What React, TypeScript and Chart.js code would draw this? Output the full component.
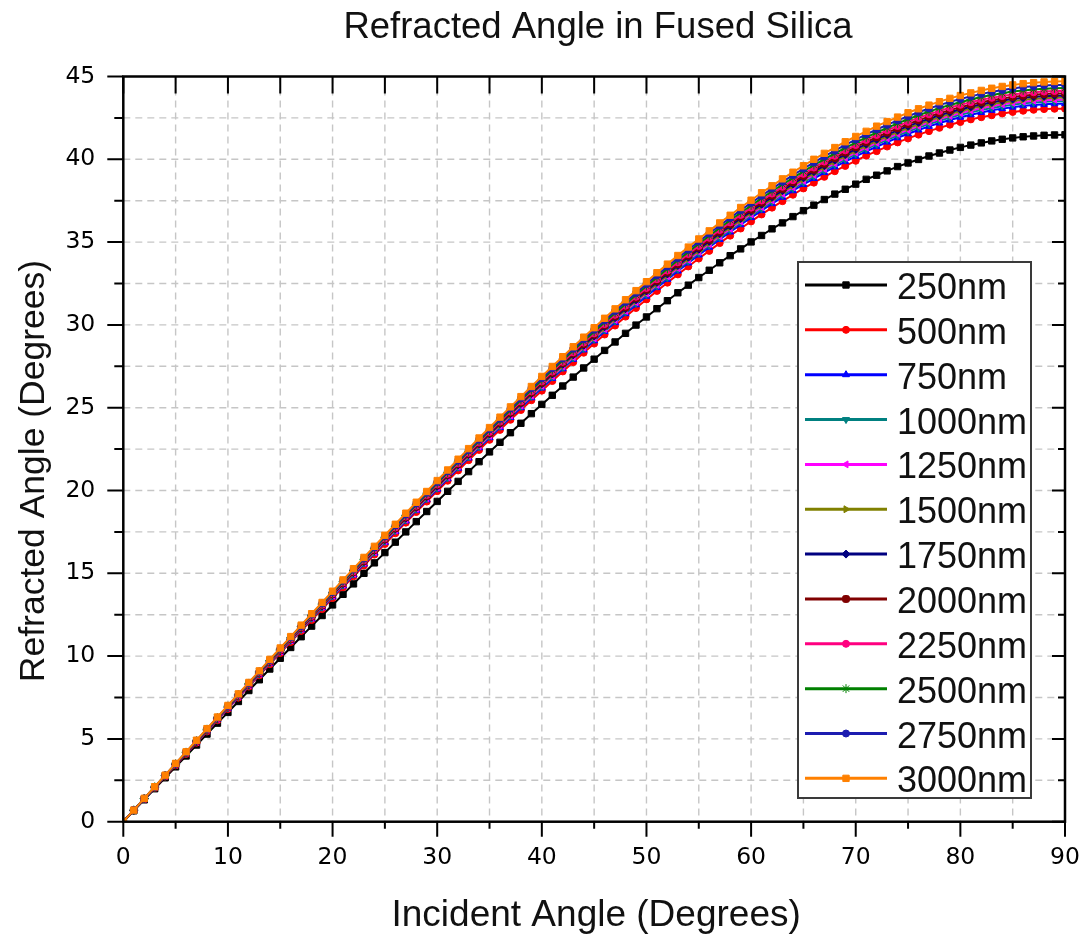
import React, { useEffect, useRef } from 'react';
import { Chart, registerables } from 'chart.js';
import { drawPoint } from 'chart.js/helpers';

Chart.register(...registerables);

const chartTitle = 'Refracted Angle in Fused Silica';
const xAxisTitle = 'Incident Angle (Degrees)';
const yAxisTitle = 'Refracted Angle (Degrees)';

const incidentAngles = [
  0, 1, 2, 3, 4, 5, 6, 7, 8, 9, 10, 11, 12, 13, 14, 15, 16, 17, 18, 19, 20,
  21, 22, 23, 24, 25, 26, 27, 28, 29, 30, 31, 32, 33, 34, 35, 36, 37, 38, 39, 40,
  41, 42, 43, 44, 45, 46, 47, 48, 49, 50, 51, 52, 53, 54, 55, 56, 57, 58, 59, 60,
  61, 62, 63, 64, 65, 66, 67, 68, 69, 70, 71, 72, 73, 74, 75, 76, 77, 78, 79, 80,
  81, 82, 83, 84, 85, 86, 87, 88, 89, 90,
];

const seriesNames = ['250nm', '500nm', '750nm', '1000nm', '1250nm', '1500nm', '1750nm', '2000nm', '2250nm', '2500nm', '2750nm', '3000nm'];
const seriesColors = ['#000000', '#ff0000', '#0000ff', '#008080', '#ff00ff', '#808000', '#000080', '#800000', '#ff0080', '#008000', '#1c1cb0', '#ff8000'];
const markerStyles = ['rect', 'circle', 'triangle', 'triangle', 'triangle', 'triangle', 'rectRot', 'rectRounded', 'circle', 'star', 'circle', 'rect'];
const markerRotations = [0, 0, 0, 180, -90, 90, 0, 0, 0, 0, 0, 0];
const markerRadii = [4.5, 3.5, 4, 4, 4, 4, 4, 4, 3.5, 4.5, 3.5, 4.5];

const refr250 = [0, 0.66, 1.32, 1.99, 2.65, 3.31, 3.97, 4.63, 5.29, 5.95, 6.60, 7.26, 7.92, 8.57, 9.22, 9.87, 10.52, 11.17, 11.81, 12.45, 13.09,
  13.73, 14.36, 15.00, 15.63, 16.25, 16.88, 17.50, 18.12, 18.73, 19.34, 19.95, 20.55, 21.14, 21.74, 22.33, 22.91, 23.49, 24.06, 24.64, 25.20,
  25.75, 26.31, 26.85, 27.40, 27.93, 28.46, 28.97, 29.49, 29.99, 30.48, 30.98, 31.46, 31.94, 32.40, 32.86, 33.30, 33.75, 34.18, 34.59, 35.01,
  35.40, 35.80, 36.16, 36.54, 36.90, 37.23, 37.57, 37.90, 38.19, 38.50, 38.79, 39.04, 39.30, 39.56, 39.78, 39.99, 40.20, 40.38, 40.56, 40.72,
  40.86, 40.99, 41.11, 41.21, 41.29, 41.36, 41.41, 41.45, 41.47, 41.48];
const refr500 = [0, 0.68, 1.37, 2.05, 2.73, 3.41, 4.09, 4.77, 5.45, 6.13, 6.81, 7.49, 8.16, 8.84, 9.51, 10.18, 10.85, 11.52, 12.18, 12.84, 13.51,
  14.16, 14.82, 15.47, 16.13, 16.77, 17.42, 18.06, 18.70, 19.33, 19.96, 20.59, 21.21, 21.83, 22.45, 23.06, 23.66, 24.27, 24.86, 25.45, 26.03,
  26.61, 27.19, 27.75, 28.32, 28.87, 29.42, 29.96, 30.50, 31.02, 31.54, 32.05, 32.55, 33.05, 33.53, 34.01, 34.47, 34.94, 35.39, 35.82, 36.25,
  36.67, 37.08, 37.47, 37.86, 38.24, 38.59, 38.94, 39.28, 39.60, 39.91, 40.22, 40.49, 40.77, 41.02, 41.26, 41.49, 41.70, 41.90, 42.09, 42.25,
  42.41, 42.54, 42.66, 42.77, 42.86, 42.93, 42.99, 43.03, 43.05, 43.06];
const refr750 = [0, 0.69, 1.37, 2.06, 2.75, 3.43, 4.12, 4.80, 5.48, 6.17, 6.85, 7.53, 8.21, 8.88, 9.56, 10.24, 10.91, 11.58, 12.25, 12.92, 13.58,
  14.24, 14.90, 15.56, 16.22, 16.87, 17.52, 18.16, 18.80, 19.44, 20.08, 20.71, 21.34, 21.96, 22.58, 23.19, 23.80, 24.41, 25.00, 25.60, 26.19,
  26.77, 27.35, 27.92, 28.49, 29.04, 29.60, 30.14, 30.68, 31.21, 31.73, 32.25, 32.75, 33.25, 33.74, 34.22, 34.69, 35.16, 35.61, 36.05, 36.48,
  36.90, 37.32, 37.71, 38.10, 38.48, 38.84, 39.20, 39.54, 39.86, 40.18, 40.48, 40.76, 41.04, 41.30, 41.54, 41.77, 41.99, 42.19, 42.37, 42.54,
  42.69, 42.83, 42.96, 43.06, 43.15, 43.23, 43.28, 43.32, 43.35, 43.36];
const refr1000 = [0, 0.69, 1.38, 2.07, 2.75, 3.44, 4.13, 4.81, 5.50, 6.18, 6.87, 7.55, 8.23, 8.91, 9.59, 10.26, 10.94, 11.61, 12.28, 12.95, 13.62,
  14.28, 14.95, 15.61, 16.26, 16.92, 17.57, 18.21, 18.86, 19.50, 20.13, 20.77, 21.40, 22.02, 22.64, 23.26, 23.87, 24.48, 25.08, 25.68, 26.27,
  26.85, 27.43, 28.00, 28.57, 29.13, 29.69, 30.23, 30.77, 31.31, 31.83, 32.35, 32.85, 33.36, 33.85, 34.33, 34.80, 35.27, 35.72, 36.17, 36.60,
  37.02, 37.44, 37.84, 38.23, 38.61, 38.97, 39.33, 39.67, 39.99, 40.31, 40.62, 40.90, 41.18, 41.44, 41.68, 41.91, 42.13, 42.33, 42.52, 42.69,
  42.84, 42.98, 43.10, 43.21, 43.30, 43.38, 43.43, 43.47, 43.50, 43.51];
const refr1250 = [0, 0.69, 1.38, 2.07, 2.76, 3.45, 4.13, 4.82, 5.51, 6.19, 6.88, 7.56, 8.25, 8.93, 9.61, 10.28, 10.96, 11.64, 12.31, 12.98, 13.65,
  14.31, 14.98, 15.64, 16.29, 16.95, 17.60, 18.25, 18.90, 19.54, 20.18, 20.81, 21.44, 22.07, 22.69, 23.31, 23.92, 24.53, 25.13, 25.73, 26.32,
  26.91, 27.49, 28.06, 28.63, 29.19, 29.75, 30.30, 30.84, 31.37, 31.90, 32.42, 32.93, 33.43, 33.92, 34.41, 34.88, 35.35, 35.80, 36.25, 36.68,
  37.11, 37.52, 37.92, 38.31, 38.70, 39.06, 39.42, 39.76, 40.09, 40.41, 40.71, 41.00, 41.27, 41.54, 41.78, 42.01, 42.23, 42.43, 42.62, 42.79,
  42.95, 43.08, 43.21, 43.32, 43.41, 43.48, 43.54, 43.58, 43.60, 43.61];
const refr1500 = [0, 0.69, 1.38, 2.07, 2.76, 3.45, 4.14, 4.83, 5.52, 6.21, 6.89, 7.58, 8.26, 8.95, 9.63, 10.31, 10.98, 11.66, 12.33, 13.01, 13.68,
  14.34, 15.01, 15.67, 16.33, 16.99, 17.64, 18.29, 18.94, 19.58, 20.22, 20.86, 21.49, 22.12, 22.74, 23.36, 23.97, 24.58, 25.19, 25.79, 26.38,
  26.97, 27.55, 28.13, 28.70, 29.26, 29.82, 30.37, 30.91, 31.45, 31.97, 32.49, 33.00, 33.51, 34.00, 34.49, 34.96, 35.43, 35.89, 36.33, 36.77,
  37.20, 37.61, 38.02, 38.41, 38.79, 39.16, 39.52, 39.86, 40.19, 40.51, 40.81, 41.10, 41.38, 41.64, 41.89, 42.12, 42.34, 42.54, 42.73, 42.90,
  43.06, 43.20, 43.32, 43.43, 43.52, 43.59, 43.65, 43.69, 43.72, 43.73];
const refr1750 = [0, 0.69, 1.39, 2.08, 2.77, 3.46, 4.15, 4.84, 5.53, 6.22, 6.91, 7.60, 8.28, 8.96, 9.65, 10.33, 11.01, 11.69, 12.36, 13.03, 13.71,
  14.37, 15.04, 15.70, 16.37, 17.02, 17.68, 18.33, 18.98, 19.62, 20.26, 20.90, 21.54, 22.17, 22.79, 23.41, 24.03, 24.64, 25.25, 25.85, 26.44,
  27.03, 27.62, 28.19, 28.77, 29.33, 29.89, 30.44, 30.98, 31.52, 32.05, 32.57, 33.08, 33.59, 34.09, 34.57, 35.05, 35.52, 35.98, 36.43, 36.86,
  37.29, 37.71, 38.11, 38.51, 38.89, 39.26, 39.62, 39.96, 40.29, 40.61, 40.92, 41.21, 41.49, 41.75, 42.00, 42.23, 42.45, 42.65, 42.84, 43.01,
  43.17, 43.31, 43.44, 43.55, 43.64, 43.71, 43.77, 43.81, 43.84, 43.84];
const refr2000 = [0, 0.69, 1.39, 2.08, 2.78, 3.47, 4.16, 4.85, 5.55, 6.24, 6.93, 7.61, 8.30, 8.99, 9.67, 10.35, 11.03, 11.71, 12.39, 13.07, 13.74,
  14.41, 15.08, 15.74, 16.41, 17.06, 17.72, 18.38, 19.02, 19.67, 20.32, 20.95, 21.59, 22.22, 22.85, 23.47, 24.09, 24.70, 25.31, 25.91, 26.51,
  27.10, 27.69, 28.27, 28.84, 29.41, 29.97, 30.52, 31.06, 31.61, 32.13, 32.66, 33.17, 33.68, 34.18, 34.67, 35.15, 35.62, 36.08, 36.53, 36.96,
  37.39, 37.81, 38.22, 38.62, 39.00, 39.37, 39.73, 40.08, 40.41, 40.73, 41.04, 41.33, 41.61, 41.87, 42.12, 42.36, 42.58, 42.78, 42.97, 43.14,
  43.30, 43.44, 43.57, 43.67, 43.77, 43.84, 43.90, 43.94, 43.97, 43.98];
const refr2250 = [0, 0.70, 1.39, 2.09, 2.78, 3.48, 4.17, 4.87, 5.56, 6.25, 6.94, 7.63, 8.32, 9.01, 9.70, 10.38, 11.06, 11.75, 12.42, 13.10, 13.78,
  14.45, 15.12, 15.79, 16.45, 17.11, 17.77, 18.43, 19.08, 19.73, 20.37, 21.01, 21.65, 22.28, 22.91, 23.54, 24.16, 24.77, 25.38, 25.99, 26.59,
  27.18, 27.77, 28.35, 28.93, 29.49, 30.05, 30.61, 31.16, 31.70, 32.23, 32.76, 33.28, 33.78, 34.28, 34.77, 35.26, 35.73, 36.19, 36.64, 37.08,
  37.51, 37.93, 38.34, 38.74, 39.12, 39.50, 39.86, 40.21, 40.54, 40.86, 41.17, 41.47, 41.75, 42.01, 42.26, 42.50, 42.72, 42.92, 43.11, 43.29,
  43.45, 43.59, 43.71, 43.82, 43.92, 43.99, 44.05, 44.09, 44.12, 44.13];
const refr2500 = [0, 0.70, 1.40, 2.10, 2.79, 3.49, 4.19, 4.88, 5.58, 6.27, 6.97, 7.66, 8.35, 9.04, 9.73, 10.41, 11.10, 11.78, 12.46, 13.14, 13.82,
  14.49, 15.17, 15.84, 16.50, 17.17, 17.83, 18.49, 19.14, 19.79, 20.44, 21.08, 21.72, 22.36, 22.99, 23.62, 24.24, 24.85, 25.47, 26.07, 26.67,
  27.27, 27.86, 28.45, 29.02, 29.59, 30.16, 30.72, 31.26, 31.81, 32.35, 32.87, 33.39, 33.90, 34.40, 34.90, 35.38, 35.85, 36.32, 36.77, 37.21,
  37.65, 38.07, 38.48, 38.88, 39.27, 39.65, 40.01, 40.35, 40.69, 41.01, 41.32, 41.62, 41.90, 42.17, 42.42, 42.66, 42.88, 43.09, 43.28, 43.45,
  43.61, 43.76, 43.88, 43.99, 44.09, 44.16, 44.22, 44.26, 44.29, 44.30];
const refr2750 = [0, 0.70, 1.40, 2.10, 2.80, 3.50, 4.20, 4.90, 5.60, 6.29, 6.99, 7.69, 8.38, 9.07, 9.76, 10.45, 11.14, 11.82, 12.51, 13.19, 13.87,
  14.55, 15.22, 15.89, 16.56, 17.23, 17.89, 18.55, 19.21, 19.86, 20.51, 21.16, 21.80, 22.44, 23.07, 23.70, 24.33, 24.95, 25.56, 26.17, 26.78,
  27.38, 27.97, 28.56, 29.13, 29.71, 30.27, 30.84, 31.38, 31.93, 32.47, 33.00, 33.53, 34.04, 34.54, 35.04, 35.52, 36.00, 36.46, 36.92, 37.37,
  37.80, 38.23, 38.64, 39.04, 39.43, 39.81, 40.17, 40.52, 40.87, 41.19, 41.50, 41.80, 42.08, 42.35, 42.60, 42.84, 43.07, 43.27, 43.47, 43.64,
  43.80, 43.95, 44.07, 44.18, 44.28, 44.36, 44.41, 44.46, 44.48, 44.49];
const refr3000 = [0, 0.70, 1.41, 2.11, 2.81, 3.52, 4.22, 4.92, 5.62, 6.32, 7.02, 7.72, 8.41, 9.11, 9.80, 10.49, 11.18, 11.87, 12.56, 13.24, 13.92,
  14.60, 15.28, 15.96, 16.63, 17.30, 17.96, 18.63, 19.29, 19.94, 20.60, 21.24, 21.89, 22.53, 23.17, 23.80, 24.43, 25.05, 25.67, 26.28, 26.89,
  27.49, 28.08, 28.68, 29.26, 29.83, 30.40, 30.97, 31.52, 32.07, 32.61, 33.15, 33.67, 34.19, 34.70, 35.19, 35.68, 36.16, 36.62, 37.09, 37.53,
  37.98, 38.40, 38.82, 39.22, 39.61, 40.00, 40.36, 40.71, 41.06, 41.38, 41.69, 42.00, 42.28, 42.55, 42.81, 43.05, 43.27, 43.48, 43.68, 43.85,
  44.01, 44.16, 44.29, 44.40, 44.49, 44.57, 44.63, 44.67, 44.70, 44.71];

const allSeries = [refr250, refr500, refr750, refr1000, refr1250, refr1500, refr1750, refr2000, refr2250, refr2500, refr2750, refr3000];

const TEXT_FONT = "'Liberation Sans', Arial, sans-serif";
const TICK_FONT = "'DejaVu Sans', 'Liberation Sans', sans-serif";

const decorPlugin = {
  id: 'decor',
  beforeDatasetsDraw(chart: any) {
    const { ctx, chartArea: a } = chart;
    const xs = chart.scales.x;
    const ys = chart.scales.y;
    ctx.save();
    ctx.strokeStyle = '#c6c6c6';
    ctx.lineWidth = 1.4;
    ctx.setLineDash([7, 5]);
    ctx.beginPath();
    xs.ticks.forEach((t: any) => {
      if (t.value <= xs.min || t.value >= xs.max) return;
      const p = xs.getPixelForValue(t.value);
      ctx.moveTo(p, a.top);
      ctx.lineTo(p, a.bottom);
    });
    ys.ticks.forEach((t: any) => {
      if (t.value <= ys.min || t.value >= ys.max) return;
      const p = ys.getPixelForValue(t.value);
      ctx.moveTo(a.left, p);
      ctx.lineTo(a.right, p);
    });
    ctx.stroke();
    ctx.restore();
  },
  afterDatasetsDraw(chart: any) {
    const { ctx, chartArea: a } = chart;
    const xs = chart.scales.x;
    const ys = chart.scales.y;
    ctx.save();
    ctx.strokeStyle = '#000000';
    ctx.lineWidth = 2;
    ctx.beginPath();
    xs.ticks.forEach((t: any) => {
      const p = xs.getPixelForValue(t.value);
      const major = Math.abs(t.value / 10 - Math.round(t.value / 10)) < 1e-6;
      ctx.moveTo(p, a.bottom);
      ctx.lineTo(p, a.bottom + (major ? 15 : 7));
      ctx.moveTo(p, a.top);
      ctx.lineTo(p, a.top + 17);
    });
    ys.ticks.forEach((t: any) => {
      const p = ys.getPixelForValue(t.value);
      const major = Math.abs(t.value / 5 - Math.round(t.value / 5)) < 1e-6;
      ctx.moveTo(a.left, p);
      ctx.lineTo(a.left - (major ? 16 : 9), p);
      ctx.moveTo(a.right, p);
      ctx.lineTo(a.right - (major ? 13 : 7), p);
    });
    ctx.stroke();
    ctx.lineWidth = 2.5;
    ctx.strokeRect(a.left, a.top, a.right - a.left, a.bottom - a.top);
    ctx.restore();
  },
  afterDraw(chart: any) {
    const { ctx } = chart;
    ctx.save();
    ctx.fillStyle = '#111111';
    ctx.textBaseline = 'alphabetic';
    ctx.textAlign = 'center';
    ctx.font = `36.5px ${TEXT_FONT}`;
    ctx.fillText(chartTitle, 598, 38);
    ctx.textAlign = 'left';
    ctx.font = `37px ${TEXT_FONT}`;
    ctx.fillText(xAxisTitle, 391.5, 926);
    ctx.save();
    ctx.translate(44, 471);
    ctx.rotate(-Math.PI / 2);
    ctx.textAlign = 'center';
    ctx.font = `35.5px ${TEXT_FONT}`;
    ctx.fillText(yAxisTitle, 0, 0);
    ctx.restore();

    // legend
    const bx = 798, by = 262, bw = 233, bh = 536;
    ctx.fillStyle = '#ffffff';
    ctx.fillRect(bx, by, bw, bh);
    ctx.strokeStyle = '#3a3a3a';
    ctx.lineWidth = 2;
    ctx.strokeRect(bx, by, bw, bh);
    ctx.font = `36px ${TEXT_FONT}`;
    ctx.textAlign = 'left';
    seriesNames.forEach((name, i) => {
      const ly = 285 + i * 44.85;
      ctx.strokeStyle = seriesColors[i];
      ctx.fillStyle = seriesColors[i];
      ctx.lineWidth = 3;
      ctx.beginPath();
      ctx.moveTo(805, ly);
      ctx.lineTo(887, ly);
      ctx.stroke();
      ctx.lineWidth = 1;
      drawPoint(ctx, { pointStyle: markerStyles[i], rotation: markerRotations[i], radius: markerRadii[i], borderWidth: 1 } as any, 846, ly);
      ctx.fillStyle = '#111111';
      ctx.fillText(name, 897, ly + 14);
    });
    ctx.restore();
  },
};

export default function App() {
  const canvasRef = useRef<HTMLCanvasElement | null>(null);

  useEffect(() => {
    const canvas = canvasRef.current;
    if (!canvas) return;
    const chart = new Chart(canvas, {
      type: 'line',
      data: {
        datasets: allSeries.map((vals, i) => ({
          label: seriesNames[i],
          data: incidentAngles.map((ang, j) => ({ x: ang, y: vals[j] })),
          borderColor: seriesColors[i],
          backgroundColor: seriesColors[i],
          borderWidth: 2,
          pointStyle: markerStyles[i] as any,
          pointRotation: markerRotations[i],
          pointRadius: markerRadii[i],
          pointBorderWidth: 1,
          tension: 0,
          order: allSeries.length - 1 - i,
        })),
      },
      options: {
        responsive: false,
        maintainAspectRatio: false,
        animation: false,
        events: [],
        layout: { padding: { top: 76.5, right: 22, left: 0, bottom: 0 } },
        plugins: {
          legend: { display: false },
          title: { display: false },
          tooltip: { enabled: false },
        },
        scales: {
          x: {
            type: 'linear',
            min: 0,
            max: 90,
            afterFit: (s: any) => { s.height = 114.3; s.paddingLeft = 0; s.paddingRight = 0; },
            grid: { display: false, drawTicks: false },
            border: { display: false },
            ticks: {
              stepSize: 5,
              autoSkip: false,
              maxRotation: 0,
              padding: 22,
              color: '#000000',
              font: { family: TICK_FONT, size: 23.5 },
              callback: (v: any) => (Math.abs(v / 10 - Math.round(v / 10)) < 1e-6 ? String(v) : ''),
            },
          },
          y: {
            type: 'linear',
            min: 0,
            max: 45,
            afterFit: (s: any) => { s.width = 123.3; s.paddingTop = 0; s.paddingBottom = 0; },
            grid: { display: false, drawTicks: false },
            border: { display: false },
            ticks: {
              stepSize: 2.5,
              autoSkip: false,
              padding: 28,
              color: '#000000',
              font: { family: TICK_FONT, size: 23.5 },
              callback: (v: any) => (Math.abs(v / 5 - Math.round(v / 5)) < 1e-6 ? String(v) : ''),
            },
          },
        },
      },
      plugins: [decorPlugin],
    } as any);
    return () => chart.destroy();
  }, []);

  return (
    <div style={{ position: 'absolute', left: 0, top: 0, width: 1087, height: 936, background: '#ffffff', overflow: 'hidden' }}>
      <canvas ref={canvasRef} width={1087} height={936} style={{ display: 'block' }} />
    </div>
  );
}
